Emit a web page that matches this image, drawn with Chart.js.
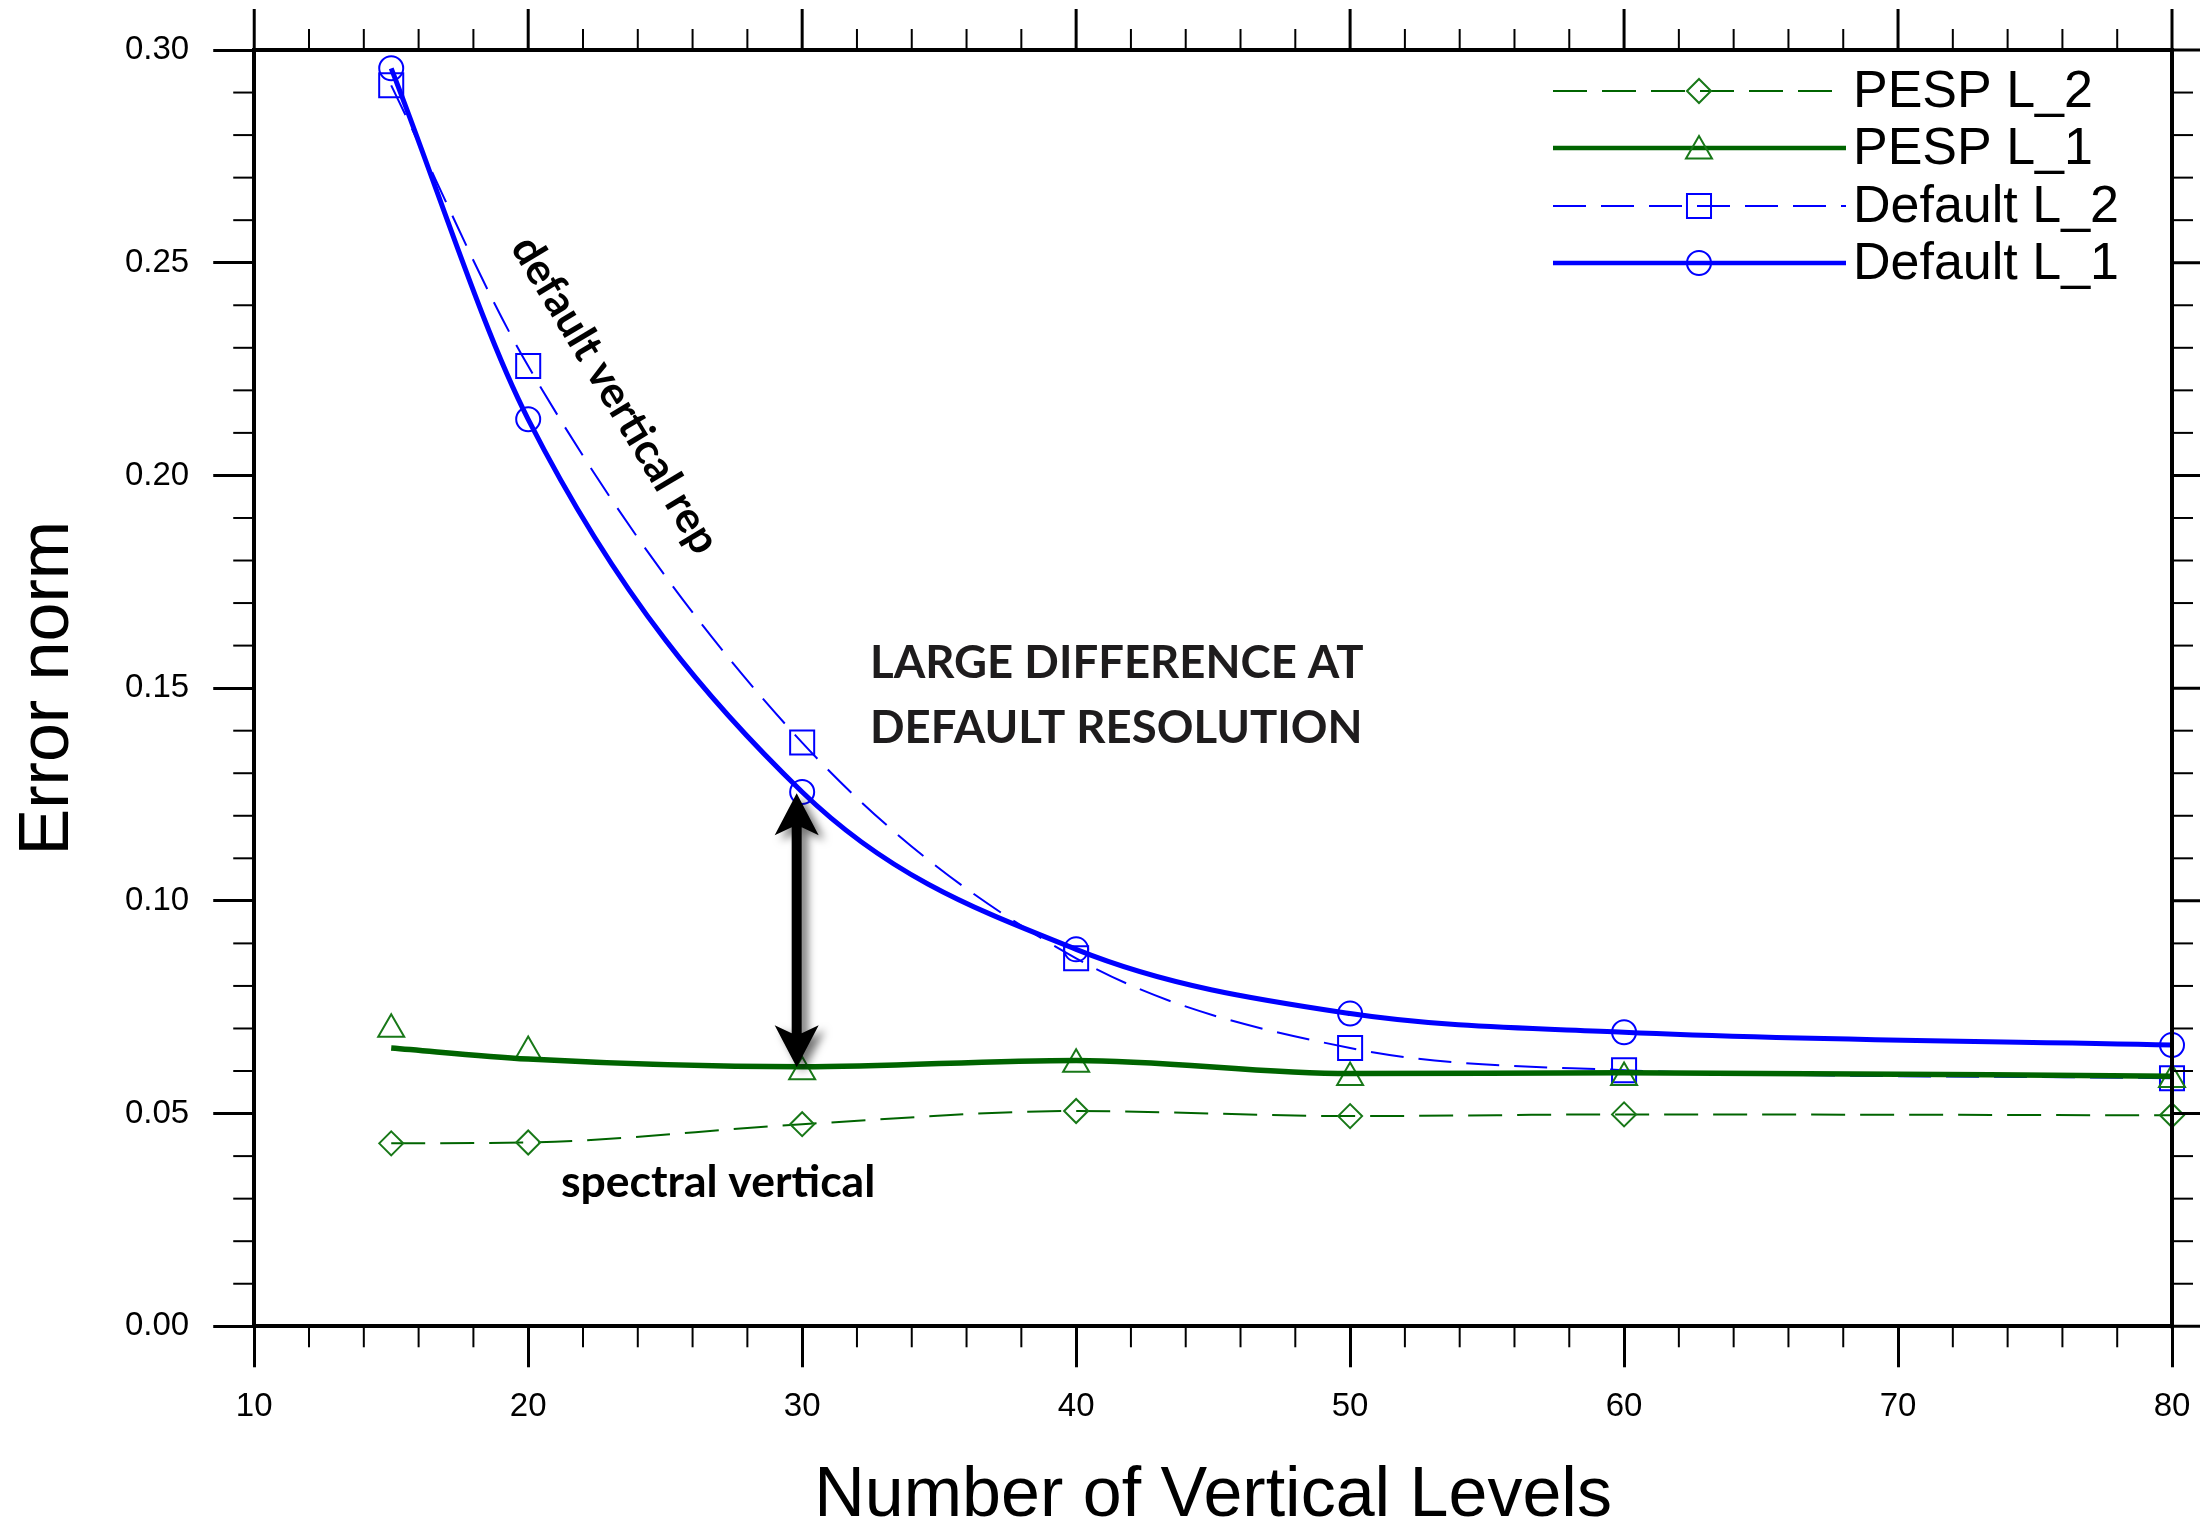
<!DOCTYPE html>
<html>
<head>
<meta charset="utf-8">
<script src="https://cdn.jsdelivr.net/npm/chart.js@4/dist/chart.umd.min.js"></script>
<style>
  html, body { margin: 0; padding: 0; background: #ffffff; }
  #wrap { width: 2200px; height: 1527px; position: relative; }
</style>
</head>
<body>
<div id="wrap"><canvas id="c" width="2200" height="1527"></canvas></div>
<script>
// ---------------- data ----------------
const levels      = [15, 20, 30, 40, 50, 60, 80];
const seriesNames = ['PESP L_2', 'PESP L_1', 'Default L_2', 'Default L_1'];
const pespL2      = [0.0430, 0.0432, 0.0475, 0.0506, 0.0494, 0.0498, 0.0496];
const pespL1      = [0.0698, 0.0646, 0.0598, 0.0616, 0.0585, 0.0585, 0.0580];
const pespL1Fit   = [0.0654, 0.0628, 0.0610, 0.0625, 0.0594, 0.0596, 0.0588];
const defaultL2   = [0.2917, 0.2257, 0.1372, 0.0865, 0.0654, 0.0602, 0.0583];
const defaultL1   = [0.2957, 0.2132, 0.1256, 0.0886, 0.0735, 0.0691, 0.0661];
const xTickLabels = ['10', '20', '30', '40', '50', '60', '70', '80'];
const yTickLabels = ['0.00', '0.05', '0.10', '0.15', '0.20', '0.25', '0.30'];
const xTitle = 'Number of Vertical Levels';
const yTitle = 'Error norm';
const noteDiagonal = 'default vertical rep';
const noteBig = ['LARGE DIFFERENCE AT', 'DEFAULT RESOLUTION'];
const noteLow = 'spectral vertical';

// ---------------- styles ----------------
const GREEN = '#006400';
const GREEN_MK = '#187818';
const BLUE = '#0000ff';
const FONT = "'Liberation Sans', Arial, Helvetica, sans-serif";
const NOTE_FONT = "Lato, 'Open Sans', sans-serif";
Chart.defaults.font.family = FONT;
Chart.defaults.color = '#000';

const pts = ys => levels.map((x, i) => ({ x: x, y: ys[i] }));
const common = { fill: false, clip: false, cubicInterpolationMode: 'monotone', pointBackgroundColor: 'rgba(0,0,0,0)', pointHoverRadius: 0 };

const datasets = [
  Object.assign({}, common, { label: seriesNames[0], data: pts(pespL2), borderColor: GREEN, borderWidth: 2, borderDash: [34, 15],
    pointStyle: 'rectRot', pointRadius: 12, pointBorderColor: GREEN_MK, pointBorderWidth: 2 }),
  Object.assign({}, common, { label: seriesNames[1] + ' curve', data: pts(pespL1Fit), borderColor: GREEN, borderWidth: 5.5,
    pointRadius: 0 }),
  Object.assign({}, common, { label: seriesNames[1], data: pts(pespL1), showLine: false, borderColor: GREEN,
    pointStyle: 'triangle', pointRadius: 15, pointBorderColor: GREEN_MK, pointBorderWidth: 2 }),
  Object.assign({}, common, { label: seriesNames[2], data: pts(defaultL2), borderColor: BLUE, borderWidth: 2, borderDash: [33, 15],
    pointStyle: 'rect', pointRadius: 17, pointBorderColor: BLUE, pointBorderWidth: 2 }),
  Object.assign({}, common, { label: seriesNames[3], data: pts(defaultL1), borderColor: BLUE, borderWidth: 5,
    pointStyle: 'circle', pointRadius: 12, pointBorderColor: BLUE, pointBorderWidth: 2 })
];

// legend rows: which dataset gives the line, which gives the marker
const legendRows = [
  { text: seriesNames[0], line: 0, marker: 0 },
  { text: seriesNames[1], line: 1, marker: 2 },
  { text: seriesNames[2], line: 3, marker: 3 },
  { text: seriesNames[3], line: 4, marker: 4 }
];

function drawMarker(ctx, style, r, x, y) {
  ctx.beginPath();
  if (style === 'circle') {
    ctx.arc(x, y, r, 0, Math.PI * 2);
  } else if (style === 'rect') {
    const s = Math.SQRT1_2 * r;
    ctx.rect(x - s, y - s, 2 * s, 2 * s);
  } else if (style === 'rectRot') {
    ctx.moveTo(x - r, y); ctx.lineTo(x, y - r); ctx.lineTo(x + r, y); ctx.lineTo(x, y + r); ctx.closePath();
  } else if (style === 'triangle') {
    ctx.moveTo(x, y - r);
    ctx.lineTo(x + 0.866 * r, y + 0.5 * r);
    ctx.lineTo(x - 0.866 * r, y + 0.5 * r);
    ctx.closePath();
  }
  ctx.stroke();
}

const legendPlugin = {
  id: 'customLegend',
  afterDraw(chart) {
    const ctx = chart.ctx;
    const x0 = 1553, x1 = 1846, mx = 1699, tx = 1853;
    const rowsY = [91, 148, 206, 263];
    ctx.save();
    legendRows.forEach((row, i) => {
      const y = rowsY[i];
      const ld = chart.data.datasets[row.line];
      const md = chart.data.datasets[row.marker];
      ctx.strokeStyle = ld.borderColor;
      ctx.lineWidth = ld.borderWidth >= 5 ? 4.5 : ld.borderWidth;
      ctx.setLineDash(ld.borderDash || []);
      ctx.lineCap = 'butt';
      ctx.beginPath(); ctx.moveTo(x0, y); ctx.lineTo(x1, y); ctx.stroke();
      ctx.setLineDash([]);
      ctx.strokeStyle = md.pointBorderColor;
      ctx.lineWidth = md.pointBorderWidth;
      const my = md.pointStyle === 'triangle' ? y + 3 : y;
      drawMarker(ctx, md.pointStyle, md.pointRadius, mx, my);
      ctx.fillStyle = '#000';
      ctx.font = '52px ' + FONT;
      ctx.textBaseline = 'alphabetic';
      ctx.textAlign = 'left';
      ctx.fillText(row.text, tx, y + 16);
    });
    ctx.restore();
  }
};

const frameTicksPlugin = {
  id: 'frameTicks',
  afterDraw(chart) {
    const ctx = chart.ctx;
    const a = chart.chartArea;
    const xs = chart.scales.x, ys = chart.scales.y;
    ctx.save();
    ctx.strokeStyle = '#000';
    ctx.lineCap = 'butt';
    const seg = (x1, y1, x2, y2) => { ctx.beginPath(); ctx.moveTo(x1, y1); ctx.lineTo(x2, y2); ctx.stroke(); };
    // minor ticks
    ctx.lineWidth = 2;
    for (let v = 12; v < 80; v += 2) {
      if (v % 10 === 0) continue;
      const px = xs.getPixelForValue(v);
      seg(px, a.bottom, px, a.bottom + 21);
      seg(px, a.top, px, a.top - 21);
    }
    for (let k = 1; k < 30; k++) {
      if (k % 5 === 0) continue;
      const py = ys.getPixelForValue(k / 100);
      seg(a.left, py, a.left - 21, py);
      seg(a.right, py, a.right + 21, py);
    }
    // major ticks on top and right
    ctx.lineWidth = 3;
    for (let v = 10; v <= 80; v += 10) {
      const px = xs.getPixelForValue(v);
      seg(px, a.top, px, a.top - 41);
    }
    for (let k = 0; k <= 6; k++) {
      const py = ys.getPixelForValue(k * 0.05);
      seg(a.right, py, a.right + 41, py);
    }
    // frame top and right
    ctx.lineWidth = 4;
    seg(a.left - 2, a.top, a.right + 2, a.top);
    seg(a.right, a.top, a.right, a.bottom + 2);
    ctx.restore();
  }
};

function fitFont(ctx, text, weight, family, width) {
  ctx.font = weight + ' 100px ' + family;
  const w = ctx.measureText(text).width;
  return 100 * width / w;
}

const notesPlugin = {
  id: 'notes',
  afterDraw(chart) {
    const ctx = chart.ctx;
    const xs = chart.scales.x, ys = chart.scales.y;
    ctx.save();
    // diagonal note
    let s = fitFont(ctx, noteDiagonal, 'bold', NOTE_FONT, 362);
    ctx.font = 'bold ' + s.toFixed(1) + 'px ' + NOTE_FONT;
    ctx.fillStyle = '#000';
    ctx.textAlign = 'center';
    ctx.textBaseline = 'middle';
    ctx.translate(615, 395);
    ctx.rotate(59 * Math.PI / 180);
    ctx.fillText(noteDiagonal, 0, 0);
    ctx.setTransform(1, 0, 0, 1, 0, 0);
    // big note
    s = fitFont(ctx, noteBig[0], 'bold', NOTE_FONT, 493);
    ctx.font = 'bold ' + s.toFixed(1) + 'px ' + NOTE_FONT;
    ctx.fillStyle = '#1e1c1d';
    ctx.textAlign = 'left';
    ctx.textBaseline = 'alphabetic';
    ctx.fillText(noteBig[0], 870, 678);
    ctx.fillText(noteBig[1], 870, 743);
    // low note
    s = fitFont(ctx, noteLow, 'bold', NOTE_FONT, 314);
    ctx.font = 'bold ' + s.toFixed(1) + 'px ' + NOTE_FONT;
    ctx.fillStyle = '#000';
    ctx.fillText(noteLow, 561, 1197);
    // double arrow between the two curves at x ~ 30
    const cx = xs.getPixelForValue(29.8);
    const yTop = ys.getPixelForValue(0.1253);
    const yBot = ys.getPixelForValue(0.0609);
    const headL = 42, headW = 22, notch = 34, shaft = 5;
    ctx.shadowColor = 'rgba(0,0,0,0.55)';
    ctx.shadowBlur = 9;
    ctx.shadowOffsetX = 6;
    ctx.shadowOffsetY = 5;
    ctx.fillStyle = '#000';
    ctx.beginPath();
    ctx.moveTo(cx, yTop);
    ctx.lineTo(cx + headW, yTop + headL);
    ctx.lineTo(cx + shaft, yTop + notch);
    ctx.lineTo(cx + shaft, yBot - notch);
    ctx.lineTo(cx + headW, yBot - headL);
    ctx.lineTo(cx, yBot);
    ctx.lineTo(cx - headW, yBot - headL);
    ctx.lineTo(cx - shaft, yBot - notch);
    ctx.lineTo(cx - shaft, yTop + notch);
    ctx.lineTo(cx - headW, yTop + headL);
    ctx.closePath();
    ctx.fill();
    ctx.restore();
  }
};

new Chart(document.getElementById('c'), {
  type: 'line',
  data: { datasets: datasets },
  options: {
    responsive: false,
    animation: false,
    devicePixelRatio: 1,
    events: [],
    layout: { padding: { left: 0, right: 28, top: 50, bottom: 0 } },
    plugins: { legend: { display: false }, tooltip: { enabled: false } },
    scales: {
      x: {
        type: 'linear', position: 'bottom', min: 10, max: 80,
        ticks: {
          stepSize: 10, autoSkip: false, maxRotation: 0, padding: 9, color: '#000',
          font: { family: FONT, size: 33, lineHeight: 1.84 },
          callback: v => xTickLabels[Math.round((v - 10) / 10)]
        },
        grid: { display: true, drawOnChartArea: false, drawTicks: true, tickLength: 41, tickWidth: 3, tickColor: '#000' },
        border: { display: true, width: 4, color: '#000' },
        title: { display: true, text: xTitle, color: '#000', font: { family: FONT, size: 70, lineHeight: 0.8 }, padding: { top: 23, bottom: 2 } }
      },
      y: {
        type: 'linear', position: 'left', min: 0, max: 0.3,
        ticks: {
          stepSize: 0.05, autoSkip: false, padding: 24, color: '#000',
          font: { family: FONT, size: 33, lineHeight: 1.2 },
          callback: v => yTickLabels[Math.round(v / 0.05)]
        },
        grid: { display: true, drawOnChartArea: false, drawTicks: true, tickLength: 41, tickWidth: 3, tickColor: '#000' },
        border: { display: true, width: 4, color: '#000' },
        title: { display: true, text: yTitle, color: '#000', font: { family: FONT, size: 70, lineHeight: 0.8 }, padding: { top: 21, bottom: 24 } }
      }
    }
  },
  plugins: [frameTicksPlugin, legendPlugin, notesPlugin]
});
</script>
</body>
</html>
